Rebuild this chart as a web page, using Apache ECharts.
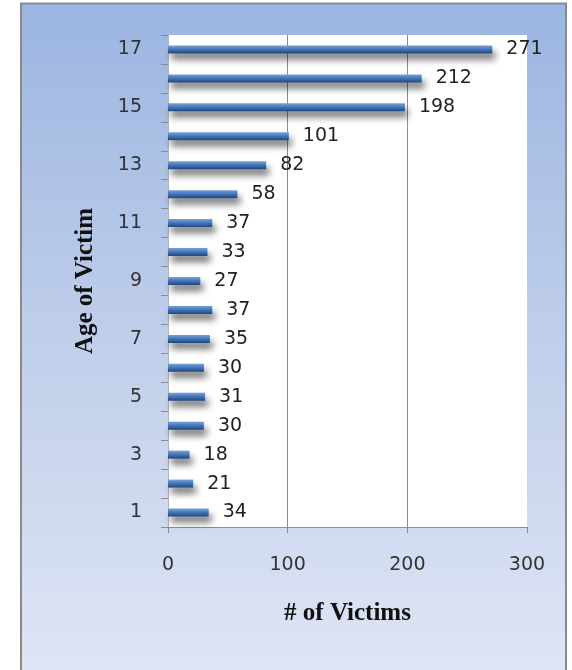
<!DOCTYPE html>
<html>
<head>
<meta charset="utf-8">
<script src="https://cdn.jsdelivr.net/npm/echarts@6/dist/echarts.min.js"></script>
<style>
  html, body { margin: 0; padding: 0; background: #fff; }
  #chart { width: 572px; height: 670px; }
</style>
</head>
<body>
<div id="chart"></div>
<script>
// ages, bottom to top
const ages = ['1', '2', '3', '4', '5', '6', '7', '8', '9', '10', '11', '12', '13', '14', '15', '16', '17']
// number of victims per age
const victims = [34, 21, 18, 30, 31, 30, 35, 37, 27, 33, 37, 58, 82, 101, 198, 212, 271]
const xTicks = [0, 100, 200, 300]

const chart = echarts.init(document.getElementById('chart'))

const option = {
  backgroundColor: '#ffffff',
  animation: false,
  graphic: [{
    type: 'rect',
    z: -10,
    shape: { x: 21, y: 3.5, width: 545, height: 670 },
    style: {
      fill: new echarts.graphic.LinearGradient(0, 0, 0, 1, [
        { offset: 0, color: '#9bb5e1' },
        { offset: 0.45, color: '#bccce9' },
        { offset: 1, color: '#dfe5f4' }
      ]),
      stroke: '#8a8a8a',
      lineWidth: 2
    }
  }],
  grid: {
    left: 168,
    right: 45,
    top: 35,
    bottom: 143,
    show: true,
    backgroundColor: '#ffffff',
    borderWidth: 0
  },
  xAxis: {
    type: 'value',
    min: xTicks[0],
    max: xTicks[xTicks.length - 1],
    interval: 100,
    name: '# of Victims',
    nameLocation: 'middle',
    nameGap: 74,
    nameTextStyle: {
      fontFamily: 'Liberation Serif',
      fontWeight: 'bold',
      fontSize: 25,
      color: '#111'
    },
    axisLine: { show: true, lineStyle: { color: '#8c8c8c', width: 1 } },
    axisTick: { show: true, length: 6, lineStyle: { color: '#8c8c8c' } },
    axisLabel: {
      margin: 29,
      fontFamily: 'DejaVu Sans',
      fontSize: 19,
      color: '#333'
    },
    splitLine: {
      show: true,
      showMinLine: false,
      showMaxLine: false,
      lineStyle: { color: '#8c8c8c', width: 1 }
    }
  },
  yAxis: {
    type: 'category',
    data: ages,
    name: 'Age of Victim',
    nameLocation: 'middle',
    nameGap: 70,
    nameRotate: 90,
    nameTextStyle: {
      fontFamily: 'Liberation Serif',
      fontWeight: 'bold',
      fontSize: 25,
      color: '#111'
    },
    axisLine: { show: true, lineStyle: { color: '#b5b5b5' } },
    axisTick: { show: true, length: 7, interval: 0, lineStyle: { color: '#8c8c8c' } },
    axisLabel: {
      interval: 1,
      margin: 26,
      fontFamily: 'DejaVu Sans',
      fontSize: 19,
      color: '#333'
    }
  },
  series: [{
    type: 'bar',
    data: victims,
    barWidth: 8,
    itemStyle: {
      color: new echarts.graphic.LinearGradient(0, 0, 0, 1, [
        { offset: 0, color: '#76a2d9' },
        { offset: 0.45, color: '#4878b9' },
        { offset: 1, color: '#21467c' }
      ]),
      shadowColor: 'rgba(0, 0, 0, 0.55)',
      shadowBlur: 7,
      shadowOffsetX: 3,
      shadowOffsetY: 6
    },
    label: {
      show: true,
      position: 'right',
      distance: 14,
      fontFamily: 'DejaVu Sans',
      fontSize: 19,
      color: '#222'
    }
  }]
}

chart.setOption(option)
</script>
</body>
</html>
